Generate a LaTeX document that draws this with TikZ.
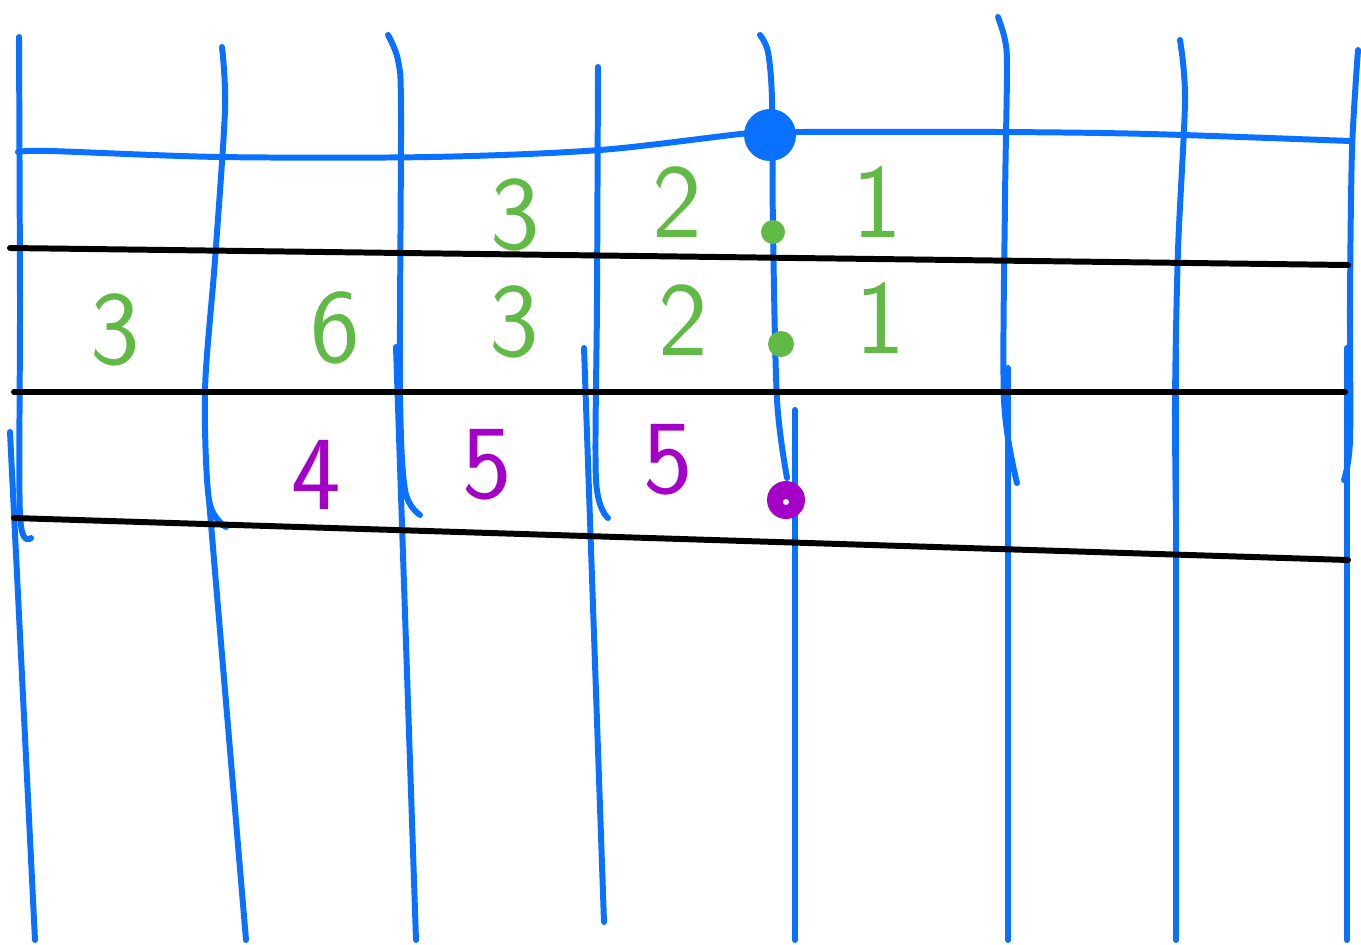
\documentclass[tikz,border=0pt]{standalone}
\usepackage{tikz}
\usetikzlibrary{positioning}
\definecolor{penblue}{RGB}{10,112,255}
\definecolor{pengreen}{RGB}{98,186,70}
\definecolor{penpurple}{RGB}{164,0,200}
\tikzset{
  fret/.style = {penblue, line width=3.4pt, line cap=round, line join=round},
  stave/.style = {black, line width=3.4pt, line cap=round},
  digit/.style = {inner sep=0pt, font=\sffamily\fontsize{60}{66}\selectfont}
}

\begin{document}
\begin{tikzpicture}[x=0.02cm, y=-0.02cm]
    \useasboundingbox (0,0) rectangle (1361,944);

    % Upper strokes of the vertical lines
    \draw[fret] plot[smooth] coordinates {(19,37) (20,300) (20,515) (31,538)};
    \draw[fret] plot[smooth] coordinates {(222,47) (225,110) (215,260) (205,390) (209,500) (226,527)};
    \draw[fret] plot[smooth] coordinates {(388,35) (398,60) (401,110) (400,390) (405,490) (420,515)};
    \draw[fret] plot[smooth] coordinates {(598,67) (597,300) (596,480) (608,518)};
    \draw[fret] plot[smooth] coordinates {(760,35) (768,52) (772,100) (773,230) (777,400) (787,478)};
    \draw[fret] plot[smooth] coordinates {(998,17) (1005,40) (1007,70) (1005,200) (1004,400) (1017,483)};
    \draw[fret] plot[smooth] coordinates {(1180,40) (1185,100) (1178,250) (1175,400) (1176,520)};
    \draw[fret] plot[smooth] coordinates {(1358,50) (1352,150) (1350,300) (1350,440) (1344,480)};

    % Lower strokes of the vertical lines
    \foreach \xa/\ya/\xb/\yb in {
        10/432/35/940,
        209/500/246/940,
        396/347/416/940,
        584/348/604/922,
        795/410/795/940,
        1008/368/1008/940,
        1176/348/1176/940,
        1347/348/1347/940
    } {
        \draw[fret] (\xa,\ya) -- (\xb,\yb);
    }

    % Top line
    \draw[fret] plot[smooth] coordinates {(18,152) (50,151) (220,157) (430,157) (600,150) (750,133) (800,132) (1000,132) (1150,134) (1350,141)};

    % Black lines
    \draw[stave] (10,248) -- (1348,265);
    \draw[stave] (14,392) -- (1345,392);
    \draw[stave] (14,518) -- (1348,560);

    % Dots
    \fill[penblue] (770,135) circle (26);
    \fill[pengreen] (773,232) circle (12);
    \fill[pengreen] (781,344) circle (13);
    \fill[penpurple] (786,500) circle (19);
    \fill[white] (786,502) circle (3);

    % Green numbers
    \node[digit, pengreen] (g3a) at (515,215) {3};
    \node[digit, pengreen] (g2a) at (677,202) {2};
    \node[digit, pengreen] (g1a) at (877,202) {1};
    \node[digit, pengreen] (g3b) at (115,330) {3};
    \node[digit, pengreen] (g6b) at (335,328) {6};
    \node[digit, pengreen] (g3c) at (514,322) {3};
    \node[digit, pengreen] (g2c) at (683,320) {2};
    \node[digit, pengreen] (g1c) at (880,318) {1};

    % Purple numbers
    \node[digit, penpurple] (p4) at (316,475) {4};
    \node[digit, penpurple] (p5a) at (487,465) {5};
    \node[digit, penpurple] (p5b) at (668,460) {5};

\end{tikzpicture}
\end{document}
